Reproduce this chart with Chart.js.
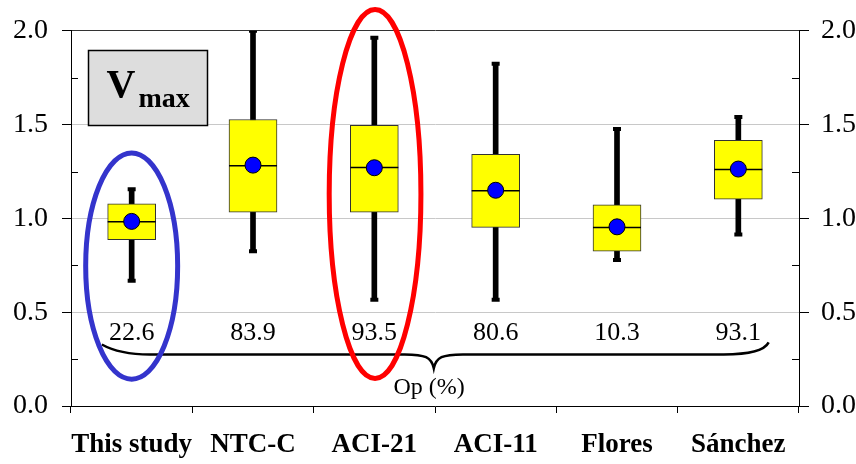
<!DOCTYPE html>
<html>
<head>
<meta charset="utf-8">
<script src="https://cdn.jsdelivr.net/npm/chart.js@4/dist/chart.umd.min.js"></script>
<style>
  html, body { margin: 0; padding: 0; background: #fff; }
  #wrap { width: 856px; height: 464px; }
</style>
</head>
<body>
<div id="wrap"><canvas id="chart"></canvas></div>
<script>
var categories = ['This study', 'NTC-C', 'ACI-21', 'ACI-11', 'Flores', 'Sánchez'];
var whiskerMin = [0.667, 0.825, 0.566, 0.566, 0.778, 0.914];
var boxQ1 = [0.887, 1.033, 1.033, 0.952, 0.825, 1.102];
var medians = [0.982, 1.280, 1.271, 1.148, 0.952, 1.261];
var boxQ3 = [1.078, 1.527, 1.496, 1.342, 1.072, 1.416];
var whiskerMax = [1.155, 2.000, 1.963, 1.825, 1.476, 1.541];
var means = [0.984, 1.284, 1.270, 1.150, 0.955, 1.263];
var opValues = ['22.6', '83.9', '93.5', '80.6', '10.3', '93.1'];
var yTicks = [0, 0.5, 1.0, 1.5, 2.0];

var serif = "'Liberation Serif', 'Times New Roman', serif";

var boxes = categories.map(function(c, i) { return [boxQ1[i], boxQ3[i]]; });
var whiskers = categories.map(function(c, i) { return [whiskerMin[i], whiskerMax[i]]; });

// extra drawing: minor ticks, Op values, brace, ellipses, Vmax label
var annotations = {
    id: 'annotations',
    afterDraw: function(chart) {
        var ctx = chart.ctx;
        var xs = chart.scales.x, ys = chart.scales.y;
        var area = chart.chartArea;
        var x0 = xs.getPixelForValue(0), step = xs.getPixelForValue(1) - x0;
        function px(i) { return x0 + i * step; }
        function py(v) { return ys.getPixelForValue(v); }

        ctx.save();

        // minor ticks pointing inward
        ctx.strokeStyle = '#000';
        ctx.lineWidth = 1;
        for (var v = 0.25; v < 2; v += 0.5) {
            var yy = Math.round(py(v)) + 0.5;
            ctx.beginPath();
            ctx.moveTo(area.left, yy); ctx.lineTo(area.left + 7, yy);
            ctx.moveTo(area.right, yy); ctx.lineTo(area.right - 7, yy);
            ctx.stroke();
        }

        // Op values
        ctx.fillStyle = '#000';
        ctx.font = '26px ' + serif;
        ctx.textAlign = 'center';
        ctx.textBaseline = 'middle';
        opValues.forEach(function(t, i) {
            ctx.fillText(t, px(i), py(0.386));
        });

        // brace
        var yb = py(0.275);
        ctx.lineWidth = 2.5;
        ctx.beginPath();
        ctx.moveTo(px(-0.246), py(0.328));
        ctx.quadraticCurveTo(px(-0.1), yb, px(0.15), yb);
        ctx.lineTo(px(2.25), yb);
        ctx.bezierCurveTo(px(2.42), yb, px(2.47), py(0.26), px(2.49), py(0.201));
        ctx.bezierCurveTo(px(2.51), py(0.26), px(2.56), yb, px(2.73), yb);
        ctx.lineTo(px(4.88), yb);
        ctx.quadraticCurveTo(px(5.2), yb, px(5.25), py(0.339));
        ctx.stroke();

        ctx.font = '24px ' + serif;
        ctx.fillText('Op (%)', px(2.452), py(0.095));

        // ellipses
        ctx.lineWidth = 5;
        ctx.strokeStyle = '#3434CC';
        ctx.beginPath();
        ctx.ellipse(px(0), py(0.746), px(0.379) - px(0), py(0.143) - py(0.746), 0, 0, Math.PI * 2);
        ctx.stroke();
        ctx.strokeStyle = '#FF0000';
        ctx.beginPath();
        ctx.ellipse(px(2.006), py(1.130), px(0.378) - px(0), py(0.147) - py(1.130), 0, 0, Math.PI * 2);
        ctx.stroke();

        // Vmax box
        var bl = Math.round(px(-0.362)) + 0.5, br = Math.round(px(0.619)) + 0.5;
        var bt = Math.round(py(1.895)) + 0.5, bb = Math.round(py(1.5)) + 0.5;
        ctx.fillStyle = '#DDDDDD';
        ctx.fillRect(bl, bt, br - bl, bb - bt);
        ctx.lineWidth = 1.5;
        ctx.strokeStyle = '#000';
        ctx.strokeRect(bl, bt, br - bl, bb - bt);
        ctx.fillStyle = '#000';
        ctx.textAlign = 'left';
        ctx.textBaseline = 'alphabetic';
        ctx.font = 'bold 40px ' + serif;
        ctx.fillText('V', bl + 18, bt + 46);
        ctx.font = 'bold 28px ' + serif;
        ctx.fillText('max', bl + 50, bt + 56);

        ctx.restore();
    }
};

new Chart(document.getElementById('chart'), {
    type: 'bar',
    data: {
        labels: categories,
        datasets: [{
            type: 'line',
            label: 'Mean',
            data: means,
            showLine: false,
            pointRadius: 8,
            pointBackgroundColor: '#0000FF',
            pointBorderColor: '#000',
            pointBorderWidth: 1,
            order: 0
        }, {
            type: 'line',
            label: 'Median',
            data: medians,
            showLine: false,
            pointStyle: 'line',
            pointRadius: 24,
            pointBorderColor: '#000',
            pointBorderWidth: 1.5,
            order: 1
        }, {
            type: 'line',
            label: 'Max cap',
            data: whiskerMax,
            showLine: false,
            pointStyle: 'line',
            pointRadius: 4,
            pointBorderColor: '#000',
            pointBorderWidth: 4,
            order: 1
        }, {
            type: 'line',
            label: 'Min cap',
            data: whiskerMin,
            showLine: false,
            pointStyle: 'line',
            pointRadius: 4,
            pointBorderColor: '#000',
            pointBorderWidth: 4,
            order: 1
        }, {
            label: 'Box',
            data: boxes,
            backgroundColor: '#FFFF00',
            borderColor: '#333',
            borderWidth: 1,
            borderSkipped: false,
            barThickness: 48,
            grouped: false,
            order: 2
        }, {
            label: 'Whisker',
            data: whiskers,
            backgroundColor: '#000',
            borderWidth: 0,
            barThickness: 5,
            grouped: false,
            order: 3
        }]
    },
    options: {
        responsive: true,
        maintainAspectRatio: false,
        animation: false,
        events: [],
        layout: { padding: { top: 28, left: 0, right: 0, bottom: 0 } },
        plugins: {
            legend: { display: false },
            tooltip: { enabled: false }
        },
        scales: {
            x: {
                grid: { drawOnChartArea: false, tickLength: 7, color: '#000', offset: true },
                border: { color: '#000', width: 1 },
                ticks: {
                    color: '#000',
                    padding: 16,
                    maxRotation: 0,
                    autoSkip: false,
                    font: { family: serif, size: 27, weight: 'bold' }
                },
                afterFit: function(scale) { scale.height = 58; }
            },
            y: {
                position: 'left',
                min: 0,
                max: 2,
                afterBuildTicks: function(scale) {
                    scale.ticks = yTicks.map(function(v) { return { value: v }; });
                },
                grid: {
                    color: function(c) { return c.tick && c.tick.value === 2 ? '#333' : '#C8C8C8'; },
                    tickColor: '#000',
                    tickLength: 9
                },
                border: { color: '#000', width: 1 },
                ticks: {
                    color: '#000',
                    padding: 14,
                    font: { family: serif, size: 28 },
                    callback: function(v) { return Number(v).toFixed(1); }
                },
                afterFit: function(scale) { scale.width = 71; }
            },
            y2: {
                position: 'right',
                min: 0,
                max: 2,
                afterBuildTicks: function(scale) {
                    scale.ticks = yTicks.map(function(v) { return { value: v }; });
                },
                grid: { drawOnChartArea: false, tickColor: '#000', color: '#000', tickLength: 10 },
                border: { color: '#000', width: 1 },
                ticks: {
                    color: '#000',
                    padding: 12,
                    font: { family: serif, size: 28 },
                    callback: function(v) { return Number(v).toFixed(1); }
                },
                afterFit: function(scale) { scale.width = 57; }
            }
        }
    },
    plugins: [annotations]
});
</script>
</body>
</html>
